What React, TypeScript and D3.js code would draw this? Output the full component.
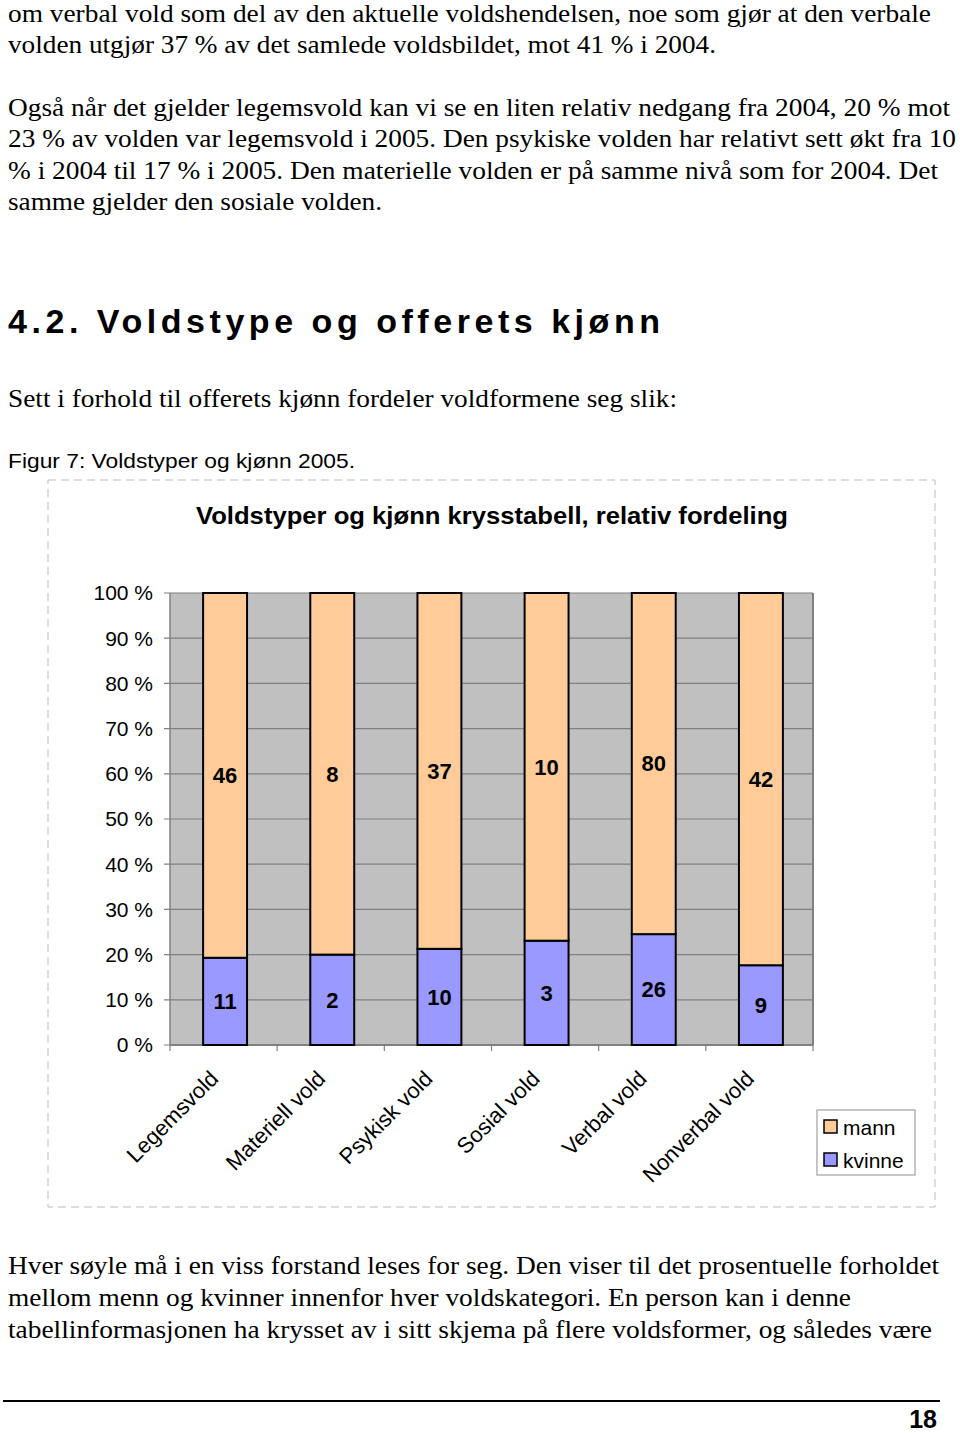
import React from "react";
import * as d3 from "d3";

// chart data (counts per violence type, split by victim gender)
const categories = [
  "Legemsvold",
  "Materiell vold",
  "Psykisk vold",
  "Sosial vold",
  "Verbal vold",
  "Nonverbal vold"
];
const mann = [46, 8, 37, 10, 80, 42];
const kvinne = [11, 2, 10, 3, 26, 9];
const yTicks = [0, 10, 20, 30, 40, 50, 60, 70, 80, 90, 100];
const seriesKeys = ["kvinne", "mann"];
const seriesColors: Record<string, string> = { mann: "#ffcc99", kvinne: "#9999ff" };

// page text
const topLines = [
  "om verbal vold som del av den aktuelle voldshendelsen, noe som gjør at den verbale",
  "volden utgjør 37 % av det samlede voldsbildet, mot 41 % i 2004.",
  "Også når det gjelder legemsvold kan vi se en liten relativ nedgang fra 2004, 20 % mot",
  "23 % av volden var legemsvold i 2005. Den psykiske volden har relativt sett økt fra 10",
  "% i 2004 til 17 % i 2005. Den materielle volden er på samme nivå som for 2004. Det",
  "samme gjelder den sosiale volden."
];
const bottomLines = [
  "Hver søyle må i en viss forstand leses for seg. Den viser til det prosentuelle forholdet",
  "mellom menn og kvinner innenfor hver voldskategori. En person kan i denne",
  "tabellinformasjonen ha krysset av i sitt skjema på flere voldsformer, og således være"
];

const topLayout = [
  { y: 22, w: 923 },
  { y: 53, w: 708 },
  { y: 116, w: 942 },
  { y: 147, w: 948 },
  { y: 179, w: 930 },
  { y: 210, w: 374 }
];
const bottomLayout = [
  { y: 1274, w: 931 },
  { y: 1306, w: 843 },
  { y: 1338, w: 924 }
];

const serif = "'Liberation Serif', 'Times New Roman', serif";
const sans = "'Liberation Sans', Arial, sans-serif";

const App: React.FC = () => {
  const W = 960;
  const H = 1433;

  // plot area
  const plot = { left: 170, right: 813, top: 593, bottom: 1045 };

  const xCat = d3
    .scaleBand<string>()
    .domain(categories)
    .range([plot.left, plot.right])
    .padding(0);
  const barW = xCat.bandwidth() * 0.41;

  const y = d3.scaleLinear().domain([0, 1]).range([plot.bottom, plot.top]);

  const rows = categories.map((c, i) => ({ cat: c, mann: mann[i], kvinne: kvinne[i] }));
  const stacked = d3
    .stack<any>()
    .keys(seriesKeys)
    .offset(d3.stackOffsetExpand)(rows);

  return (
    <svg
      width={W}
      height={H}
      style={{ position: "absolute", left: 0, top: 0, background: "#fff" }}
    >
      {/* body text above */}
      {topLines.map((t, i) => (
        <text
          key={"t" + i}
          x={8}
          y={topLayout[i].y}
          fontFamily={serif}
          fontSize={26}
          textLength={topLayout[i].w}
          lengthAdjust="spacingAndGlyphs"
        >
          {t}
        </text>
      ))}

      <text
        x={8}
        y={333}
        fontFamily={sans}
        fontWeight="bold"
        fontSize={34}
        textLength={652}
        lengthAdjust="spacing"
      >
        4.2. Voldstype og offerets kjønn
      </text>
      <text
        x={8}
        y={407}
        fontFamily={serif}
        fontSize={26}
        textLength={669}
        lengthAdjust="spacingAndGlyphs"
      >
        Sett i forhold til offerets kjønn fordeler voldformene seg slik:
      </text>
      <text
        x={8}
        y={468}
        fontFamily={sans}
        fontSize={21}
        textLength={347}
        lengthAdjust="spacingAndGlyphs"
      >
        Figur 7: Voldstyper og kjønn 2005.
      </text>

      {/* chart frame */}
      <rect
        x={48}
        y={480}
        width={887}
        height={727}
        fill="none"
        stroke="#bdbdbd"
        strokeDasharray="8,5"
      />
      <text
        x={492}
        y={524}
        textAnchor="middle"
        fontFamily={sans}
        fontWeight="bold"
        fontSize={24.5}
        textLength={592}
        lengthAdjust="spacingAndGlyphs"
      >
        Voldstyper og kjønn krysstabell, relativ fordeling
      </text>

      {/* plot background */}
      <rect
        x={plot.left}
        y={plot.top}
        width={plot.right - plot.left}
        height={plot.bottom - plot.top}
        fill="#c0c0c0"
      />
      {/* gridlines + y ticks */}
      {yTicks.map(t => (
        <g key={"g" + t}>
          <line
            x1={plot.left - 6}
            x2={plot.right}
            y1={y(t / 100)}
            y2={y(t / 100)}
            stroke="#808080"
            strokeWidth={1.2}
          />
          <text
            x={153}
            y={y(t / 100)}
            dy="0.35em"
            textAnchor="end"
            fontFamily={sans}
            fontSize={21}
          >
            {`${t} %`}
          </text>
        </g>
      ))}
      <line x1={plot.left} x2={plot.left} y1={plot.top} y2={plot.bottom} stroke="#808080" strokeWidth={1.5} />
      <line x1={plot.right} x2={plot.right} y1={plot.top} y2={plot.bottom} stroke="#808080" strokeWidth={2} />
      <line x1={plot.left} x2={plot.right} y1={plot.bottom} y2={plot.bottom} stroke="#808080" strokeWidth={2} />
      {/* x ticks at category boundaries */}
      {categories.map((c, i) => (
        <line
          key={"xt" + i}
          x1={xCat(c) as number}
          x2={xCat(c) as number}
          y1={plot.bottom}
          y2={plot.bottom + 6}
          stroke="#808080"
          strokeWidth={1.2}
        />
      ))}
      <line x1={plot.right} x2={plot.right} y1={plot.bottom} y2={plot.bottom + 6} stroke="#808080" strokeWidth={1.2} />

      {/* stacked bars */}
      {stacked.map(s => (
        <g key={s.key}>
          {s.map((d, i) => {
            const cx = (xCat(categories[i]) as number) + xCat.bandwidth() / 2 + 1.5;
            const y0 = y(d[0]);
            const y1 = y(d[1]);
            const val = s.key === "mann" ? mann[i] : kvinne[i];
            return (
              <g key={s.key + i}>
                <rect
                  x={cx - barW / 2}
                  y={y1}
                  width={barW}
                  height={y0 - y1}
                  fill={seriesColors[s.key]}
                  stroke="#000"
                  strokeWidth={2}
                />
                <text
                  x={cx}
                  y={(y0 + y1) / 2}
                  dy="0.36em"
                  textAnchor="middle"
                  fontFamily={sans}
                  fontWeight="bold"
                  fontSize={22}
                >
                  {val}
                </text>
              </g>
            );
          })}
        </g>
      ))}

      {/* x labels */}
      {categories.map(c => {
        const cx = (xCat(c) as number) + xCat.bandwidth() / 2;
        return (
          <text
            key={"xl" + c}
            transform={`translate(${cx - 4},${1080}) rotate(-45)`}
            textAnchor="end"
            fontFamily={sans}
            fontSize={22}
          >
            {c}
          </text>
        );
      })}

      {/* legend */}
      <rect x={817} y={1110} width={98} height={65} fill="#fff" stroke="#a0a0a0" strokeWidth={1.2} />
      {["mann", "kvinne"].map((k, i) => (
        <g key={"lg" + k} transform={`translate(824,${1120 + i * 33})`}>
          <rect width={13} height={13} fill={seriesColors[k]} stroke="#000" strokeWidth={1.5} />
          <text x={19} y={7} dy="0.36em" fontFamily={sans} fontSize={21}>
            {k}
          </text>
        </g>
      ))}

      {/* body text below */}
      {bottomLines.map((t, i) => (
        <text
          key={"b" + i}
          x={8}
          y={bottomLayout[i].y}
          fontFamily={serif}
          fontSize={26}
          textLength={bottomLayout[i].w}
          lengthAdjust="spacingAndGlyphs"
        >
          {t}
        </text>
      ))}

      <line x1={3} x2={940} y1={1401} y2={1401} stroke="#000" strokeWidth={2} />
      <text x={937} y={1428} textAnchor="end" fontFamily={sans} fontWeight="bold" fontSize={25}>
        18
      </text>
    </svg>
  );
};

export default App;
